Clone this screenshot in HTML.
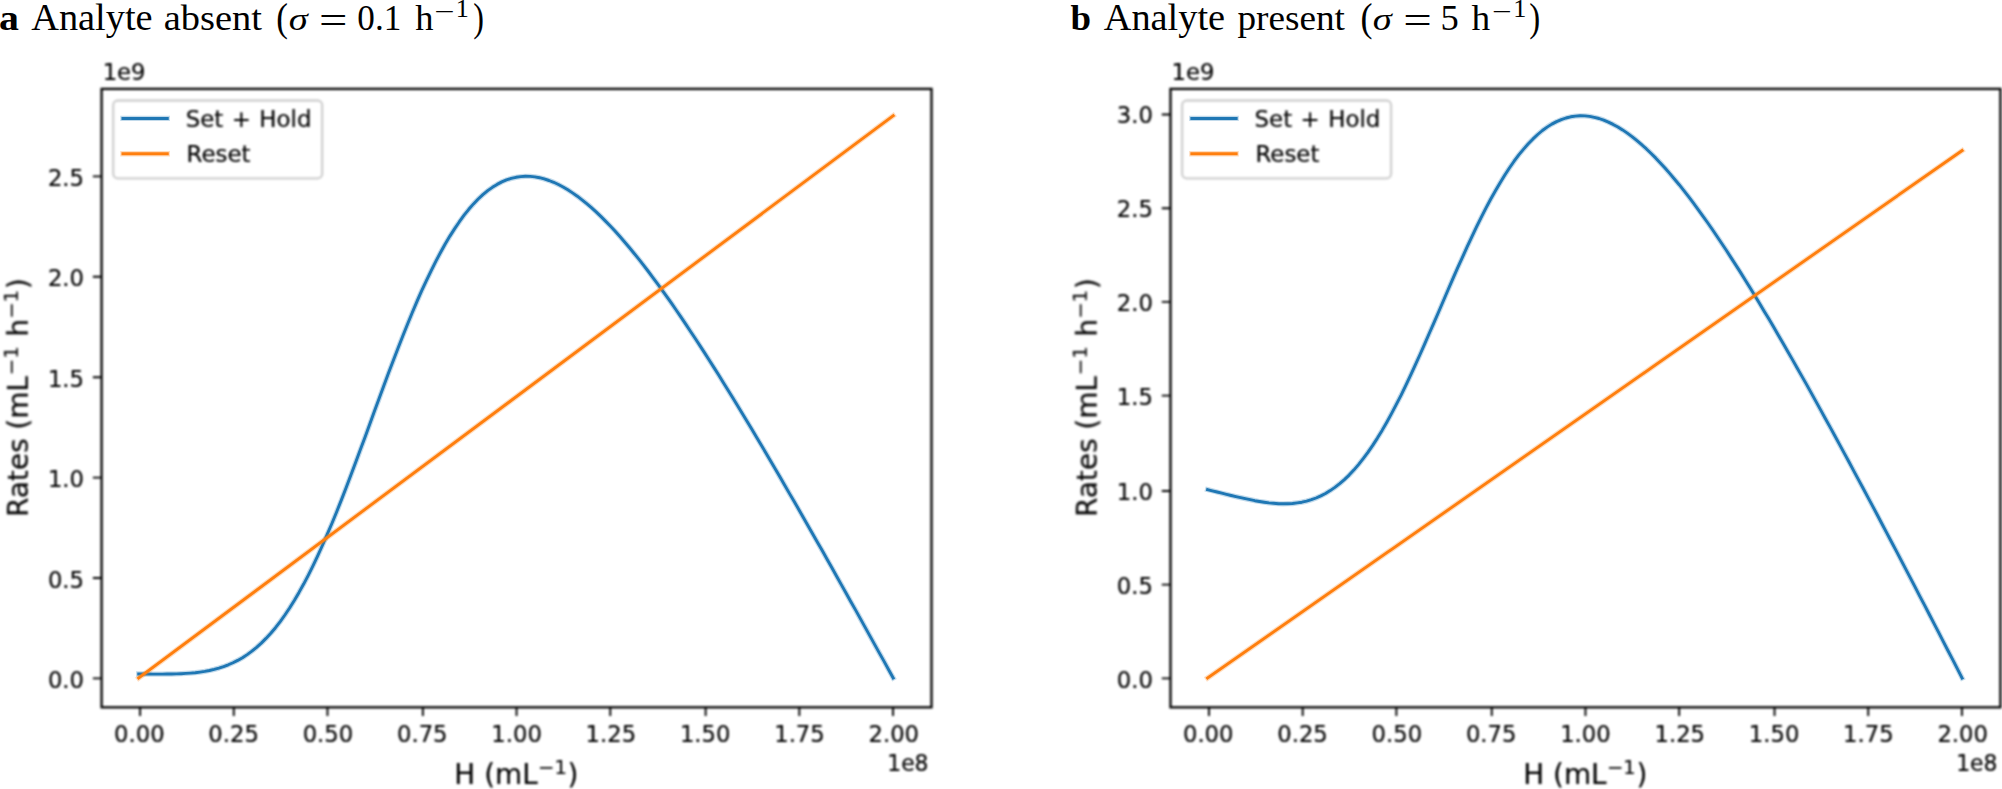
<!DOCTYPE html>
<html lang="en"><head><meta charset="utf-8"><title>Set + Hold vs Reset rates</title>
<style>
html,body{margin:0;padding:0;background:#fff;}
body{width:2002px;height:789px;overflow:hidden;}
svg{display:block;}
.t{font-family:"DejaVu Sans","Liberation Sans",sans-serif;font-size:22.70px;fill:#000;stroke:#000;stroke-width:.2px;}
.lt{font-family:"DejaVu Sans","Liberation Sans",sans-serif;font-size:22.89px;fill:#000;stroke:#000;stroke-width:.2px;word-spacing:1.2px;}
.lb{font-family:"DejaVu Sans","Liberation Sans",sans-serif;font-size:27.89px;fill:#000;stroke:#000;stroke-width:.2px;}
.lb .sp{font-size:19.52px;}
.ti{font-family:"Liberation Serif","DejaVu Serif",serif;font-size:36px;fill:#000;}
.ln{fill:none;stroke-width:2.90;stroke-linecap:square;stroke-linejoin:round;}
.hl{stroke-width:5.3px;stroke-opacity:.27;}
.fr{fill:none;stroke:#000;stroke-width:2.30;}
.tk{fill:none;stroke:#000;stroke-width:1.90;}
.lg{fill:#fff;fill-opacity:.8;stroke:#d0d0d0;stroke-opacity:1;stroke-width:2.32;}
</style></head><body>
<svg width="2002" height="789" viewBox="0 0 2002 789">
<defs><filter id="soft" x="-2%" y="-2%" width="104%" height="104%" color-interpolation-filters="sRGB"><feGaussianBlur stdDeviation="0.8"/></filter></defs>
<rect width="2002" height="789" fill="#fff"/>
<g class="ti">
<text x="-1.11" y="30.2" font-size="36" textLength="19.91" lengthAdjust="spacingAndGlyphs" font-weight="bold">a</text>
<text x="31.20" y="30.0" font-size="37" textLength="121.47" lengthAdjust="spacingAndGlyphs">Analyte</text>
<text x="163.73" y="30.0" font-size="36" textLength="98.13" lengthAdjust="spacingAndGlyphs">absent</text>
<text x="276.28" y="31.1" font-size="41" textLength="11.74" lengthAdjust="spacingAndGlyphs">(</text>
<text x="288.69" y="30.0" font-size="32" textLength="19.04" lengthAdjust="spacingAndGlyphs" font-style="italic">σ</text>
<text x="319.14" y="32.7" font-size="38" textLength="28.46" lengthAdjust="spacingAndGlyphs">=</text>
<text x="357.34" y="30.2" font-size="36.5" textLength="43.93" lengthAdjust="spacingAndGlyphs">0.1</text>
<text x="415.30" y="30.0" font-size="36.5" textLength="18.25" lengthAdjust="spacingAndGlyphs">h</text>
<text x="434.37" y="19.6" font-size="25" textLength="20.22" lengthAdjust="spacingAndGlyphs">−</text>
<text x="455.67" y="16.8" font-size="24.5" textLength="13.07" lengthAdjust="spacingAndGlyphs">1</text>
<text x="473.22" y="31.1" font-size="41" textLength="10.68" lengthAdjust="spacingAndGlyphs">)</text>
</g>
<g class="ti">
<text x="1070.50" y="30.2" font-size="36" textLength="20.56" lengthAdjust="spacingAndGlyphs" font-weight="bold">b</text>
<text x="1103.70" y="30.0" font-size="37" textLength="121.37" lengthAdjust="spacingAndGlyphs">Analyte</text>
<text x="1237.50" y="30.0" font-size="36" textLength="107.47" lengthAdjust="spacingAndGlyphs">present</text>
<text x="1360.44" y="31.1" font-size="41" textLength="12.02" lengthAdjust="spacingAndGlyphs">(</text>
<text x="1372.69" y="30.0" font-size="32" textLength="19.04" lengthAdjust="spacingAndGlyphs" font-style="italic">σ</text>
<text x="1403.33" y="32.7" font-size="38" textLength="28.58" lengthAdjust="spacingAndGlyphs">=</text>
<text x="1440.50" y="30.2" font-size="36.5" textLength="18.25" lengthAdjust="spacingAndGlyphs">5</text>
<text x="1471.60" y="30.0" font-size="36.5" textLength="18.66" lengthAdjust="spacingAndGlyphs">h</text>
<text x="1491.91" y="19.6" font-size="25" textLength="19.64" lengthAdjust="spacingAndGlyphs">−</text>
<text x="1513.27" y="16.8" font-size="24.5" textLength="13.07" lengthAdjust="spacingAndGlyphs">1</text>
<text x="1529.20" y="31.1" font-size="41" textLength="10.92" lengthAdjust="spacingAndGlyphs">)</text>
</g>
<g>
<path class="ln hl" stroke="#1f77b4" d="M138.7 674.0 L143.4 674.0 L148.2 674.0 L152.9 674.1 L157.6 674.1 L162.3 674.1 L167.0 674.0 L171.7 674.0 L176.4 673.9 L181.2 673.7 L185.9 673.4 L190.6 673.1 L195.3 672.7 L200.0 672.1 L204.7 671.4 L209.5 670.5 L214.2 669.4 L218.9 668.1 L223.6 666.6 L228.3 664.8 L233.0 662.7 L237.7 660.4 L242.5 657.7 L247.2 654.6 L251.9 651.2 L256.6 647.3 L261.3 643.1 L266.0 638.4 L270.8 633.3 L275.5 627.7 L280.2 621.6 L284.9 615.0 L289.6 608.0 L294.3 600.4 L299.0 592.4 L303.8 583.8 L308.5 574.8 L313.2 565.3 L317.9 555.4 L322.6 545.0 L327.3 534.2 L332.1 523.0 L336.8 511.5 L341.5 499.6 L346.2 487.5 L350.9 475.1 L355.6 462.5 L360.3 449.8 L365.1 437.0 L369.8 424.1 L374.5 411.1 L379.2 398.3 L383.9 385.5 L388.6 372.8 L393.4 360.3 L398.1 348.0 L402.8 335.9 L407.5 324.2 L412.2 312.7 L416.9 301.6 L421.6 290.9 L426.4 280.6 L431.1 270.8 L435.8 261.4 L440.5 252.5 L445.2 244.0 L449.9 236.1 L454.7 228.6 L459.4 221.7 L464.1 215.2 L468.8 209.3 L473.5 203.9 L478.2 199.0 L482.9 194.6 L487.7 190.7 L492.4 187.3 L497.1 184.4 L501.8 181.9 L506.5 179.9 L511.2 178.4 L516.0 177.3 L520.7 176.6 L525.4 176.3 L530.1 176.4 L534.8 176.9 L539.5 177.7 L544.2 178.9 L549.0 180.5 L553.7 182.3 L558.4 184.5 L563.1 187.0 L567.8 189.8 L572.5 192.9 L577.3 196.2 L582.0 199.8 L586.7 203.6 L591.4 207.6 L596.1 211.9 L600.8 216.4 L605.5 221.1 L610.3 226.0 L615.0 231.0 L619.7 236.3 L624.4 241.7 L629.1 247.3 L633.8 253.0 L638.6 258.9 L643.3 264.9 L648.0 271.0 L652.7 277.3 L657.4 283.6 L662.1 290.1 L666.8 296.7 L671.6 303.4 L676.3 310.2 L681.0 317.1 L685.7 324.1 L690.4 331.2 L695.1 338.3 L699.9 345.6 L704.6 352.9 L709.3 360.2 L714.0 367.6 L718.7 375.1 L723.4 382.7 L728.1 390.3 L732.9 398.0 L737.6 405.7 L742.3 413.5 L747.0 421.3 L751.7 429.1 L756.4 437.0 L761.2 445.0 L765.9 452.9 L770.6 461.0 L775.3 469.0 L780.0 477.1 L784.7 485.2 L789.4 493.4 L794.2 501.5 L798.9 509.7 L803.6 518.0 L808.3 526.2 L813.0 534.5 L817.7 542.8 L822.5 551.1 L827.2 559.5 L831.9 567.8 L836.6 576.2 L841.3 584.6 L846.0 593.0 L850.7 601.5 L855.5 609.9 L860.2 618.4 L864.9 626.9 L869.6 635.4 L874.3 643.9 L879.0 652.4 L883.8 660.9 L888.5 669.5 L893.2 678.0"/>
<path class="ln" stroke="#1f77b4" d="M138.7 674.0 L143.4 674.0 L148.2 674.0 L152.9 674.1 L157.6 674.1 L162.3 674.1 L167.0 674.0 L171.7 674.0 L176.4 673.9 L181.2 673.7 L185.9 673.4 L190.6 673.1 L195.3 672.7 L200.0 672.1 L204.7 671.4 L209.5 670.5 L214.2 669.4 L218.9 668.1 L223.6 666.6 L228.3 664.8 L233.0 662.7 L237.7 660.4 L242.5 657.7 L247.2 654.6 L251.9 651.2 L256.6 647.3 L261.3 643.1 L266.0 638.4 L270.8 633.3 L275.5 627.7 L280.2 621.6 L284.9 615.0 L289.6 608.0 L294.3 600.4 L299.0 592.4 L303.8 583.8 L308.5 574.8 L313.2 565.3 L317.9 555.4 L322.6 545.0 L327.3 534.2 L332.1 523.0 L336.8 511.5 L341.5 499.6 L346.2 487.5 L350.9 475.1 L355.6 462.5 L360.3 449.8 L365.1 437.0 L369.8 424.1 L374.5 411.1 L379.2 398.3 L383.9 385.5 L388.6 372.8 L393.4 360.3 L398.1 348.0 L402.8 335.9 L407.5 324.2 L412.2 312.7 L416.9 301.6 L421.6 290.9 L426.4 280.6 L431.1 270.8 L435.8 261.4 L440.5 252.5 L445.2 244.0 L449.9 236.1 L454.7 228.6 L459.4 221.7 L464.1 215.2 L468.8 209.3 L473.5 203.9 L478.2 199.0 L482.9 194.6 L487.7 190.7 L492.4 187.3 L497.1 184.4 L501.8 181.9 L506.5 179.9 L511.2 178.4 L516.0 177.3 L520.7 176.6 L525.4 176.3 L530.1 176.4 L534.8 176.9 L539.5 177.7 L544.2 178.9 L549.0 180.5 L553.7 182.3 L558.4 184.5 L563.1 187.0 L567.8 189.8 L572.5 192.9 L577.3 196.2 L582.0 199.8 L586.7 203.6 L591.4 207.6 L596.1 211.9 L600.8 216.4 L605.5 221.1 L610.3 226.0 L615.0 231.0 L619.7 236.3 L624.4 241.7 L629.1 247.3 L633.8 253.0 L638.6 258.9 L643.3 264.9 L648.0 271.0 L652.7 277.3 L657.4 283.6 L662.1 290.1 L666.8 296.7 L671.6 303.4 L676.3 310.2 L681.0 317.1 L685.7 324.1 L690.4 331.2 L695.1 338.3 L699.9 345.6 L704.6 352.9 L709.3 360.2 L714.0 367.6 L718.7 375.1 L723.4 382.7 L728.1 390.3 L732.9 398.0 L737.6 405.7 L742.3 413.5 L747.0 421.3 L751.7 429.1 L756.4 437.0 L761.2 445.0 L765.9 452.9 L770.6 461.0 L775.3 469.0 L780.0 477.1 L784.7 485.2 L789.4 493.4 L794.2 501.5 L798.9 509.7 L803.6 518.0 L808.3 526.2 L813.0 534.5 L817.7 542.8 L822.5 551.1 L827.2 559.5 L831.9 567.8 L836.6 576.2 L841.3 584.6 L846.0 593.0 L850.7 601.5 L855.5 609.9 L860.2 618.4 L864.9 626.9 L869.6 635.4 L874.3 643.9 L879.0 652.4 L883.8 660.9 L888.5 669.5 L893.2 678.0"/>
<path class="ln hl" stroke="#ff7f0e" d="M138.7 678.0 L893.2 115.8"/>
<path class="ln" stroke="#ff7f0e" d="M138.7 678.0 L893.2 115.8"/>
<g filter="url(#soft)">
<rect class="fr" x="101.60" y="88.90" width="829.91" height="618.42"/>
<path class="tk" d="M140.08 707.32 v8.73 M233.78 707.32 v8.73 M327.48 707.32 v8.73 M422.86 707.32 v8.73 M516.56 707.32 v8.73 M610.26 707.32 v8.73 M705.63 707.32 v8.73 M799.33 707.32 v8.73 M893.03 707.32 v8.73 M101.60 678.37 h-8.73 M101.60 577.98 h-8.73 M101.60 477.58 h-8.73 M101.60 377.19 h-8.73 M101.60 276.80 h-8.73 M101.60 176.41 h-8.73"/>
<g class="t" text-anchor="middle">
<text x="139.32" y="742.24">0.00</text>
<text x="233.63" y="742.24">0.25</text>
<text x="327.94" y="742.24">0.50</text>
<text x="422.25" y="742.24">0.75</text>
<text x="516.56" y="742.24">1.00</text>
<text x="610.86" y="742.24">1.25</text>
<text x="705.17" y="742.24">1.50</text>
<text x="799.48" y="742.24">1.75</text>
<text x="893.79" y="742.24">2.00</text>
</g>
<g class="t" text-anchor="end">
<text x="84.03" y="688.04">0.0</text>
<text x="84.03" y="587.65">0.5</text>
<text x="84.03" y="487.25">1.0</text>
<text x="84.03" y="386.86">1.5</text>
<text x="84.03" y="286.47">2.0</text>
<text x="84.03" y="186.08">2.5</text>
<text x="928.51" y="771.31" textLength="41.2" lengthAdjust="spacingAndGlyphs">1e8</text>
</g>
<text class="t" x="102.70" y="79.93">1e9</text>
<text class="lb" transform="translate(454.37 784.87)"><tspan x="0.00" y="-0.65">H (mL</tspan><tspan x="83.68" y="-11.33" class="sp">−1</tspan><tspan x="113.22" y="-0.65">)</tspan></text>
<text class="lb" transform="translate(28.88 516.86) rotate(-90)"><tspan x="0.00" y="-0.65">Rates (mL</tspan><tspan x="141.80" y="-11.33" class="sp">−1</tspan><tspan x="171.34" y="-0.65"> h</tspan><tspan x="198.14" y="-11.33" class="sp">−1</tspan><tspan x="227.68" y="-0.65">)</tspan></text>
<rect class="lg" x="113.22" y="100.52" width="208.97" height="77.79" rx="4.65"/>
<text class="lt" x="185.68" y="127.47">Set + Hold</text>
<text class="lt" x="186.58" y="161.88">Reset</text>
</g>
<path class="ln hl" stroke="#1f77b4" d="M122.92 118.44 H167.29"/><path class="ln" stroke="#1f77b4" d="M122.92 118.44 H167.29"/>
<path class="ln hl" stroke="#ff7f0e" d="M122.92 153.75 H167.29"/><path class="ln" stroke="#ff7f0e" d="M122.92 153.75 H167.29"/>
</g>
<g>
<path class="ln hl" stroke="#1f77b4" d="M1207.6 489.6 L1212.3 490.8 L1217.1 492.0 L1221.8 493.2 L1226.5 494.3 L1231.2 495.5 L1235.9 496.6 L1240.6 497.7 L1245.3 498.7 L1250.1 499.7 L1254.8 500.7 L1259.5 501.5 L1264.2 502.2 L1268.9 502.9 L1273.6 503.3 L1278.4 503.7 L1283.1 503.8 L1287.8 503.7 L1292.5 503.5 L1297.2 502.9 L1301.9 502.2 L1306.6 501.1 L1311.4 499.7 L1316.1 498.0 L1320.8 495.9 L1325.5 493.5 L1330.2 490.6 L1334.9 487.4 L1339.7 483.7 L1344.4 479.6 L1349.1 475.1 L1353.8 470.1 L1358.5 464.6 L1363.2 458.7 L1367.9 452.3 L1372.7 445.4 L1377.4 438.1 L1382.1 430.4 L1386.8 422.2 L1391.5 413.6 L1396.2 404.6 L1401.0 395.3 L1405.7 385.6 L1410.4 375.6 L1415.1 365.4 L1419.8 355.0 L1424.5 344.3 L1429.2 333.5 L1434.0 322.6 L1438.7 311.7 L1443.4 300.7 L1448.1 289.8 L1452.8 278.9 L1457.5 268.2 L1462.3 257.6 L1467.0 247.2 L1471.7 237.1 L1476.4 227.2 L1481.1 217.6 L1485.8 208.4 L1490.5 199.5 L1495.3 191.0 L1500.0 182.9 L1504.7 175.2 L1509.4 168.0 L1514.1 161.2 L1518.8 154.9 L1523.6 149.1 L1528.3 143.7 L1533.0 138.9 L1537.7 134.5 L1542.4 130.5 L1547.1 127.1 L1551.8 124.1 L1556.6 121.6 L1561.3 119.6 L1566.0 118.0 L1570.7 116.8 L1575.4 116.1 L1580.1 115.8 L1584.9 115.9 L1589.6 116.4 L1594.3 117.3 L1599.0 118.5 L1603.7 120.1 L1608.4 122.1 L1613.1 124.4 L1617.9 127.0 L1622.6 129.9 L1627.3 133.1 L1632.0 136.6 L1636.7 140.4 L1641.4 144.4 L1646.2 148.7 L1650.9 153.2 L1655.6 157.9 L1660.3 162.9 L1665.0 168.0 L1669.7 173.4 L1674.4 179.0 L1679.2 184.7 L1683.9 190.6 L1688.6 196.7 L1693.3 202.9 L1698.0 209.3 L1702.7 215.8 L1707.5 222.5 L1712.2 229.3 L1716.9 236.2 L1721.6 243.2 L1726.3 250.3 L1731.0 257.6 L1735.7 264.9 L1740.5 272.4 L1745.2 279.9 L1749.9 287.5 L1754.6 295.2 L1759.3 303.0 L1764.0 310.9 L1768.8 318.8 L1773.5 326.8 L1778.2 334.9 L1782.9 343.0 L1787.6 351.2 L1792.3 359.4 L1797.0 367.7 L1801.8 376.1 L1806.5 384.4 L1811.2 392.9 L1815.9 401.4 L1820.6 409.9 L1825.3 418.5 L1830.1 427.1 L1834.8 435.7 L1839.5 444.4 L1844.2 453.1 L1848.9 461.8 L1853.6 470.6 L1858.3 479.4 L1863.1 488.2 L1867.8 497.1 L1872.5 505.9 L1877.2 514.8 L1881.9 523.7 L1886.6 532.7 L1891.4 541.7 L1896.1 550.6 L1900.8 559.6 L1905.5 568.7 L1910.2 577.7 L1914.9 586.7 L1919.6 595.8 L1924.4 604.9 L1929.1 614.0 L1933.8 623.1 L1938.5 632.2 L1943.2 641.4 L1947.9 650.5 L1952.7 659.7 L1957.4 668.8 L1962.1 678.0"/>
<path class="ln" stroke="#1f77b4" d="M1207.6 489.6 L1212.3 490.8 L1217.1 492.0 L1221.8 493.2 L1226.5 494.3 L1231.2 495.5 L1235.9 496.6 L1240.6 497.7 L1245.3 498.7 L1250.1 499.7 L1254.8 500.7 L1259.5 501.5 L1264.2 502.2 L1268.9 502.9 L1273.6 503.3 L1278.4 503.7 L1283.1 503.8 L1287.8 503.7 L1292.5 503.5 L1297.2 502.9 L1301.9 502.2 L1306.6 501.1 L1311.4 499.7 L1316.1 498.0 L1320.8 495.9 L1325.5 493.5 L1330.2 490.6 L1334.9 487.4 L1339.7 483.7 L1344.4 479.6 L1349.1 475.1 L1353.8 470.1 L1358.5 464.6 L1363.2 458.7 L1367.9 452.3 L1372.7 445.4 L1377.4 438.1 L1382.1 430.4 L1386.8 422.2 L1391.5 413.6 L1396.2 404.6 L1401.0 395.3 L1405.7 385.6 L1410.4 375.6 L1415.1 365.4 L1419.8 355.0 L1424.5 344.3 L1429.2 333.5 L1434.0 322.6 L1438.7 311.7 L1443.4 300.7 L1448.1 289.8 L1452.8 278.9 L1457.5 268.2 L1462.3 257.6 L1467.0 247.2 L1471.7 237.1 L1476.4 227.2 L1481.1 217.6 L1485.8 208.4 L1490.5 199.5 L1495.3 191.0 L1500.0 182.9 L1504.7 175.2 L1509.4 168.0 L1514.1 161.2 L1518.8 154.9 L1523.6 149.1 L1528.3 143.7 L1533.0 138.9 L1537.7 134.5 L1542.4 130.5 L1547.1 127.1 L1551.8 124.1 L1556.6 121.6 L1561.3 119.6 L1566.0 118.0 L1570.7 116.8 L1575.4 116.1 L1580.1 115.8 L1584.9 115.9 L1589.6 116.4 L1594.3 117.3 L1599.0 118.5 L1603.7 120.1 L1608.4 122.1 L1613.1 124.4 L1617.9 127.0 L1622.6 129.9 L1627.3 133.1 L1632.0 136.6 L1636.7 140.4 L1641.4 144.4 L1646.2 148.7 L1650.9 153.2 L1655.6 157.9 L1660.3 162.9 L1665.0 168.0 L1669.7 173.4 L1674.4 179.0 L1679.2 184.7 L1683.9 190.6 L1688.6 196.7 L1693.3 202.9 L1698.0 209.3 L1702.7 215.8 L1707.5 222.5 L1712.2 229.3 L1716.9 236.2 L1721.6 243.2 L1726.3 250.3 L1731.0 257.6 L1735.7 264.9 L1740.5 272.4 L1745.2 279.9 L1749.9 287.5 L1754.6 295.2 L1759.3 303.0 L1764.0 310.9 L1768.8 318.8 L1773.5 326.8 L1778.2 334.9 L1782.9 343.0 L1787.6 351.2 L1792.3 359.4 L1797.0 367.7 L1801.8 376.1 L1806.5 384.4 L1811.2 392.9 L1815.9 401.4 L1820.6 409.9 L1825.3 418.5 L1830.1 427.1 L1834.8 435.7 L1839.5 444.4 L1844.2 453.1 L1848.9 461.8 L1853.6 470.6 L1858.3 479.4 L1863.1 488.2 L1867.8 497.1 L1872.5 505.9 L1877.2 514.8 L1881.9 523.7 L1886.6 532.7 L1891.4 541.7 L1896.1 550.6 L1900.8 559.6 L1905.5 568.7 L1910.2 577.7 L1914.9 586.7 L1919.6 595.8 L1924.4 604.9 L1929.1 614.0 L1933.8 623.1 L1938.5 632.2 L1943.2 641.4 L1947.9 650.5 L1952.7 659.7 L1957.4 668.8 L1962.1 678.0"/>
<path class="ln hl" stroke="#ff7f0e" d="M1207.6 678.0 L1962.1 150.6"/>
<path class="ln" stroke="#ff7f0e" d="M1207.6 678.0 L1962.1 150.6"/>
<g filter="url(#soft)">
<rect class="fr" x="1170.50" y="88.90" width="829.91" height="618.42"/>
<path class="tk" d="M1208.98 707.32 v8.73 M1302.68 707.32 v8.73 M1396.38 707.32 v8.73 M1491.76 707.32 v8.73 M1585.46 707.32 v8.73 M1679.16 707.32 v8.73 M1774.53 707.32 v8.73 M1868.23 707.32 v8.73 M1961.93 707.32 v8.73 M1170.50 678.37 h-8.73 M1170.50 584.67 h-8.73 M1170.50 490.97 h-8.73 M1170.50 395.60 h-8.73 M1170.50 301.90 h-8.73 M1170.50 208.20 h-8.73 M1170.50 114.50 h-8.73"/>
<g class="t" text-anchor="middle">
<text x="1208.22" y="742.24">0.00</text>
<text x="1302.53" y="742.24">0.25</text>
<text x="1396.84" y="742.24">0.50</text>
<text x="1491.15" y="742.24">0.75</text>
<text x="1585.46" y="742.24">1.00</text>
<text x="1679.76" y="742.24">1.25</text>
<text x="1774.07" y="742.24">1.50</text>
<text x="1868.38" y="742.24">1.75</text>
<text x="1962.69" y="742.24">2.00</text>
</g>
<g class="t" text-anchor="end">
<text x="1152.93" y="688.04">0.0</text>
<text x="1152.93" y="593.85">0.5</text>
<text x="1152.93" y="499.67">1.0</text>
<text x="1152.93" y="405.48">1.5</text>
<text x="1152.93" y="311.29">2.0</text>
<text x="1152.93" y="217.10">2.5</text>
<text x="1152.93" y="122.92">3.0</text>
<text x="1997.41" y="771.31" textLength="41.2" lengthAdjust="spacingAndGlyphs">1e8</text>
</g>
<text class="t" x="1171.60" y="79.93">1e9</text>
<text class="lb" transform="translate(1523.27 784.87)"><tspan x="0.00" y="-0.65">H (mL</tspan><tspan x="83.68" y="-11.33" class="sp">−1</tspan><tspan x="113.22" y="-0.65">)</tspan></text>
<text class="lb" transform="translate(1097.78 516.86) rotate(-90)"><tspan x="0.00" y="-0.65">Rates (mL</tspan><tspan x="141.80" y="-11.33" class="sp">−1</tspan><tspan x="171.34" y="-0.65"> h</tspan><tspan x="198.14" y="-11.33" class="sp">−1</tspan><tspan x="227.68" y="-0.65">)</tspan></text>
<rect class="lg" x="1182.12" y="100.52" width="208.97" height="77.79" rx="4.65"/>
<text class="lt" x="1254.58" y="127.47">Set + Hold</text>
<text class="lt" x="1255.48" y="161.88">Reset</text>
</g>
<path class="ln hl" stroke="#1f77b4" d="M1191.82 118.44 H1236.19"/><path class="ln" stroke="#1f77b4" d="M1191.82 118.44 H1236.19"/>
<path class="ln hl" stroke="#ff7f0e" d="M1191.82 153.75 H1236.19"/><path class="ln" stroke="#ff7f0e" d="M1191.82 153.75 H1236.19"/>
</g>
</svg>
</body></html>
